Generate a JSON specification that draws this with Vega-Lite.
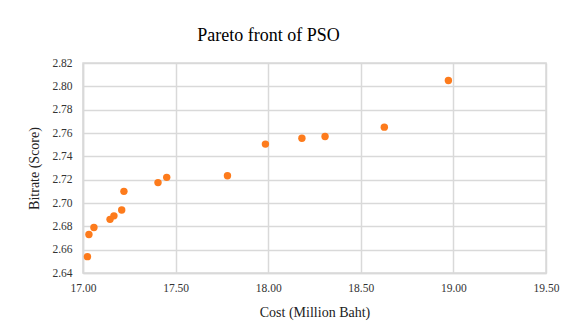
{
  "$schema": "https://vega.github.io/schema/vega-lite/v6.json",
  "width": 463,
  "height": 210,
  "autosize": {"type": "none"},
  "padding": {"left": 83, "top": 63, "right": 41, "bottom": 63},
  "background": "white",
  "title": {
    "text": "Pareto front of PSO",
    "font": "Liberation Serif",
    "fontSize": 18,
    "fontWeight": "normal",
    "color": "#000000",
    "anchor": "middle",
    "dx": -46,
    "offset": 12
  },
  "data": {
    "values": [
      {"cost": 17.024, "bitrate": 2.654},
      {"cost": 17.032, "bitrate": 2.673},
      {"cost": 17.059, "bitrate": 2.679},
      {"cost": 17.146, "bitrate": 2.686},
      {"cost": 17.167, "bitrate": 2.689},
      {"cost": 17.209, "bitrate": 2.694},
      {"cost": 17.221, "bitrate": 2.710},
      {"cost": 17.405, "bitrate": 2.7175},
      {"cost": 17.452, "bitrate": 2.722},
      {"cost": 17.78, "bitrate": 2.7234},
      {"cost": 17.985, "bitrate": 2.7505},
      {"cost": 18.182, "bitrate": 2.7555},
      {"cost": 18.307, "bitrate": 2.757},
      {"cost": 18.627, "bitrate": 2.765},
      {"cost": 18.973, "bitrate": 2.805}
    ]
  },
  "mark": {"type": "circle", "size": 55, "opacity": 1, "color": "#fd7b1c"},
  "encoding": {
    "x": {
      "field": "cost",
      "type": "quantitative",
      "scale": {"domain": [17, 19.5], "nice": false, "zero": false},
      "axis": {
        "title": "Cost (Million Baht)",
        "values": [17, 17.5, 18, 18.5, 19, 19.5],
        "format": ".2f",
        "labelFlush": false,
        "labelPadding": 9,
        "titlePadding": 12
      }
    },
    "y": {
      "field": "bitrate",
      "type": "quantitative",
      "scale": {"domain": [2.64, 2.82], "nice": false, "zero": false},
      "axis": {
        "title": "Bitrate (Score)",
        "values": [2.64, 2.66, 2.68, 2.70, 2.72, 2.74, 2.76, 2.78, 2.80, 2.82],
        "format": ".2f",
        "labelFlush": false,
        "labelPadding": 11,
        "titlePadding": 10
      }
    }
  },
  "config": {
    "view": {"stroke": "#d9d9d9", "strokeWidth": 1.5},
    "axis": {
      "grid": true,
      "gridColor": "#d9d9d9",
      "gridWidth": 1.5,
      "domain": true,
      "domainColor": "#d9d9d9",
      "domainWidth": 1.5,
      "ticks": false,
      "labelFont": "Liberation Serif",
      "labelFontSize": 11.5,
      "labelColor": "#333333",
      "titleFont": "Liberation Serif",
      "titleFontSize": 14,
      "titleFontWeight": "normal",
      "titleColor": "#222222"
    }
  }
}
